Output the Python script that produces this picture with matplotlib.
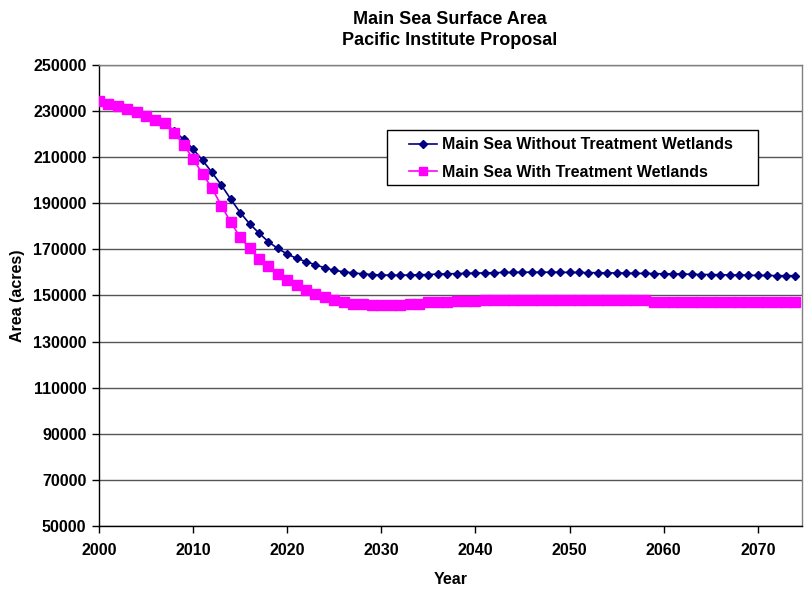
import matplotlib
matplotlib.use("Agg")
import matplotlib.pyplot as plt
from matplotlib.ticker import FixedLocator
from matplotlib.patches import Rectangle

plt.rcParams['font.family'] = ['Liberation Sans', 'DejaVu Sans']

years = list(range(2000, 2075))

without_wetlands = [
    234200, 233000, 232000, 230900, 229600, 227800, 226300, 224900, 221200, 217800,
    213500, 208700, 203400, 197900, 191800, 186000, 181100, 177100, 173300, 170400,
    168000, 166100, 164700, 163300, 162000, 160900, 160300, 159800, 159400, 159100,
    158900, 158800, 158800, 158900, 159000, 159100, 159300, 159400, 159500, 159600,
    159700, 159800, 159900, 160000, 160000, 160100, 160100, 160100, 160100, 160100,
    160000, 160000, 159900, 159900, 159800, 159800, 159700, 159600, 159600, 159500,
    159400, 159400, 159300, 159200, 159100, 159100, 159000, 158900, 158900, 158800,
    158700, 158700, 158600, 158600, 158600,
]

with_wetlands = [
    234200, 233000, 232000, 230900, 229600, 227700, 226200, 224800, 220400, 215400,
    209300, 202800, 196600, 189000, 181800, 175300, 170400, 166000, 162600, 159500,
    156800, 154500, 152300, 150800, 149400, 148200, 147100, 146500, 146200, 146000,
    146000, 145800, 145800, 146200, 146500, 147000, 147100, 147300, 147600, 147700,
    147800, 147900, 148000, 148200, 148200, 148200, 148200, 148200, 148200, 148200,
    148200, 148200, 148200, 148200, 148200, 148200, 148200, 148200, 148200, 147200,
    147200, 147200, 147200, 147200, 147200, 147200, 147200, 147200, 147200, 147200,
    147200, 147200, 147200, 147200, 147200,
]

series_labels = ["Main Sea Without Treatment Wetlands", "Main Sea With Treatment Wetlands"]
y_ticks = [50000, 70000, 90000, 110000, 130000, 150000, 170000, 190000, 210000, 230000, 250000]
x_ticks = [2000, 2010, 2020, 2030, 2040, 2050, 2060, 2070]

W, H = 806, 590
AX_L, AX_R, AX_T, AX_B = 99, 802, 65, 526
fig = plt.figure(figsize=(W/100, H/100), dpi=100)
ax = fig.add_axes([AX_L/W, (H-AX_B)/H, (AX_R-AX_L)/W, (AX_B-AX_T)/H])

ax.plot(years, without_wetlands, color='#000080', marker='D', markersize=4.5,
        linewidth=1.2, label=series_labels[0], zorder=3)
ax.plot(years, with_wetlands, color='#FF00FF', marker='s', markersize=7,
        linewidth=1.2, label=series_labels[1], zorder=4)

ax.set_xlim(2000, 2074.7)
ax.set_ylim(50000, 250000)
ax.xaxis.set_major_locator(FixedLocator(x_ticks))
ax.yaxis.set_major_locator(FixedLocator(y_ticks))
ax.grid(axis='y', color='#555555', linewidth=1.0, zorder=0)
ax.set_axisbelow(True)

for s in ['top', 'right']:
    ax.spines[s].set_color('#808080')
    ax.spines[s].set_linewidth(1.0)
for s in ['left', 'bottom']:
    ax.spines[s].set_color('black')
    ax.spines[s].set_linewidth(1.0)

ax.tick_params(axis='both', direction='out', length=5, width=1, labelsize=11.5, pad=4)
for lbl in ax.get_xticklabels() + ax.get_yticklabels():
    lbl.set_fontweight('bold')
ax.tick_params(axis='x', pad=7)

ax.set_xlabel('Year', fontsize=11.5, fontweight='bold', labelpad=10)
ax.set_ylabel('Area (acres)', fontsize=11.5, fontweight='bold', labelpad=6)

fig.text(450/W, 1 - 30/H, 'Main Sea Surface Area\nPacific Institute Proposal',
         ha='center', va='center', fontsize=13, fontweight='bold', linespacing=1.25)

# legend frame (drawn as a box in figure pixels)
LG_L, LG_R, LG_T, LG_B = 386.5, 758, 130, 185
frame = Rectangle((LG_L/W, 1 - LG_B/H), (LG_R-LG_L)/W, (LG_B-LG_T)/H,
                  transform=fig.transFigure, facecolor='white', edgecolor='black',
                  linewidth=1.0, zorder=5)
ax.add_artist(frame)
frame.set_clip_on(False)

leg = ax.legend(loc='center left',
                bbox_to_anchor=((409 - AX_L)/(AX_R-AX_L), 1 - ((LG_T+LG_B)/2 + 1 - AX_T)/(AX_B-AX_T)),
                frameon=False, borderaxespad=0, borderpad=0,
                prop={'weight': 'bold', 'size': 11.5}, handlelength=1.75,
                labelspacing=0.78, handletextpad=0.3, markerscale=0.8)
leg.set_zorder(6)

fig.savefig('out.png', dpi=100)
